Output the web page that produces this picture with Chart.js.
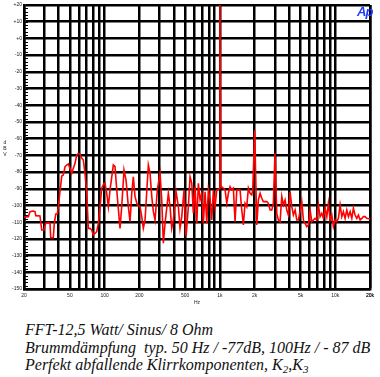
<!DOCTYPE html>
<html>
<head>
<meta charset="utf-8">
<script src="https://cdn.jsdelivr.net/npm/chart.js@4/dist/chart.umd.min.js"></script>
<style>
html, body { margin: 0; padding: 0; background: #fff; }
#wrap { position: relative; width: 380px; height: 377px; overflow: hidden; }
#fft { position: absolute; left: 0; top: 0; }
#logo { position: absolute; left: 357px; top: 5px; font: italic bold 13px "Liberation Sans", Arial, sans-serif; line-height: 13px; color: #1a3cff; letter-spacing: -1px; }
#caption { position: absolute; left: 25px; top: 321px; font: italic 16px "Liberation Serif", serif; line-height: 17.5px; color: #111; white-space: pre; }
#caption sub { font-size: 11px; line-height: 0; vertical-align: -3px; }
</style>
</head>
<body>
<div id="wrap">
  <canvas id="fft" width="380" height="312"></canvas>
  <div id="logo">Ap</div>
  <div id="caption">FFT-12,5 Watt/ Sinus/ 8 Ohm
Brummdämpfung  typ. 50 Hz / -77dB, 100Hz / - 87 dB
Perfekt abfallende Klirrkomponenten, K<sub>2</sub>,K<sub>3</sub></div>
</div>
<script>
// frequency axis labels (Hz)
const xLabelHz = [20, 50, 100, 200, 500, 1000, 2000, 5000, 10000, 20000];
const xLabelText = ['20', '50', '100', '200', '500', '1k', '2k', '5k', '10k', '20k'];

// level axis (dBV)
const yMin = -150;
const yMax = 20;
const yStep = 10;

// FFT trace
const freqHz = [
    20, 21.8, 22.5, 24.1, 24.9, 25.3, 27.5, 28.5, 29.8, 30.8,
    32.5, 33.6, 34.1, 35.9, 36.6, 37.7, 38.9, 39.7, 41.0, 42.5,
    43.8, 45.4, 46.9, 48.5, 50.1, 51.9, 53.5, 55.4, 57.3, 59.1,
    61.2, 63.3, 65.4, 67.6, 70.0, 72.2, 74.7, 77.3, 79.8, 85.4,
    88.2, 91.3, 94.4, 98.8, 100.8, 104.3, 107.7, 111.4, 119, 123.1,
    127.4, 136, 140.7, 147.3, 153.4, 160.6, 166.1, 171.9, 177.4, 183.5,
    192.2, 202.8, 209.8, 216.6, 224.2, 239.4, 247.6, 256.4, 264.6, 273.8,
    286.6, 302.4, 312.9, 323, 334.2, 357, 369.3, 382, 394.4, 416.3,
    435.9, 450.8, 466.4, 488.4, 508.2, 532.2, 550.6, 569.8, 588, 608.4,
    629.4, 649.9, 672.5, 695.6, 718.3, 743, 768.7, 793.6, 821.1, 849.3,
    876.8, 907.2, 938.5, 985, 1000, 1015, 1037, 1108, 1146, 1183,
    1224, 1266, 1307, 1352, 1399, 1444, 1494, 1546, 1596, 1651,
    1708, 1764, 1824, 1887, 1925, 2000, 2086, 2153, 2228, 2305,
    2379, 2547, 2630, 2721, 2815, 2906, 3000, 3110, 3211, 3322,
    3437, 3548, 3670, 3797, 3920, 4056, 4196, 4333, 4483, 4637,
    4786, 4953, 5124, 5291, 5473, 5662, 5846, 6048, 6257, 6459,
    6683, 6912, 7137, 7384, 7638, 7886, 8159, 8440, 8715, 9016,
    9327, 9630, 9963, 10306, 10641, 11010, 11389, 11760, 12167, 12585,
    12995, 13444, 13908, 14357, 14853, 15364, 15864, 16412, 16978, 17529,
    18134, 18760, 20000
];
const levelDb = [
    -107.1, -106.7, -103.7, -103.3, -103.7, -106.1, -106.3, -114.7, -114.7, -110.7,
    -110.3, -110.7, -119.3, -119.3, -110.7, -105.1, -105.1, -100.7, -91.8, -82.4,
    -81.8, -76.8, -75.8, -75.2, -77.8, -80.7, -77.8, -74.8, -69.8, -68.8,
    -69.2, -71.8, -72.8, -80.7, -92.7, -113.7, -113.7, -114.7, -117.7, -115.7,
    -110.7, -100.7, -89.7, -86.7, -86.7, -92.7, -100.7, -90.7, -75.8, -76.8,
    -90.7, -113.7, -100.7, -78.8, -84.8, -100.7, -109.7, -92.7, -82.8, -94.7,
    -99.7, -100.7, -106.7, -113.7, -108.7, -75.8, -80.7, -94.7, -103.7, -108.7,
    -90.7, -80.7, -96.7, -122.6, -110.7, -92.7, -100.7, -113.7, -108.7, -91.8,
    -100.7, -113.7, -106.7, -90.7, -118.7, -100.7, -82.8, -86.7, -104.7, -88.8,
    -110.7, -86.7, -96.7, -92.7, -110.7, -91.8, -110.7, -90.7, -96.7, -108.7,
    -90.7, -100.7, -90.7, -90, 25, -88, -88.8, -90.7, -98.7, -92.7,
    -88.8, -90.7, -89.7, -109.7, -90.7, -90.7, -90.7, -102.7, -111.7, -98.7,
    -100.7, -89.7, -92.7, -93.7, -90.7, -54.8, -111.7, -96.7, -92.7, -95.7,
    -97.7, -97.7, -98.7, -102.7, -102.7, -98.7, -68.8, -104.7, -108.7, -109.7,
    -94.7, -99.7, -96.7, -102.7, -105.7, -91.8, -100.7, -105.7, -102.7, -108.7,
    -108.7, -103.7, -97.7, -108.7, -110.7, -112.7, -111.7, -102.7, -109.7, -108.7,
    -107.7, -108.7, -99.7, -106.7, -104.7, -107.7, -101.7, -106.7, -98.7, -108.7,
    -105.7, -112.7, -108.7, -109.7, -107.7, -99.7, -106.7, -103.7, -107.7, -102.7,
    -106.7, -103.7, -107.7, -101.7, -105.7, -107.7, -105.7, -108.7, -107.7, -106.7,
    -106.7, -107.7, -108.1
];

// log grid: 20, 30 ... 90, 100, 200 ... 20k
const xGridHz = [];
for (let dec = 10; dec <= 10000; dec *= 10) {
    for (let m = 1; m <= 9; m++) {
        const v = m * dec;
        if (v >= 20 && v <= 20000) xGridHz.push(v);
    }
}
xGridHz.push(20000);

const tickFont = { family: 'Liberation Sans', size: 5 };

// small 2 dB ticks on the left edge + stacked "dBV" unit
const leftAxisDecor = {
    id: 'leftAxisDecor',
    beforeDatasetsDraw(chart) {
        const ctx = chart.ctx;
        const y = chart.scales.y;
        const left = chart.chartArea.left;
        ctx.save();
        ctx.strokeStyle = '#000';
        ctx.lineWidth = 1;
        ctx.beginPath();
        for (let v = yMin; v <= yMax; v += 2) {
            const py = Math.round(y.getPixelForValue(v)) + 0.5;
            ctx.moveTo(left, py);
            ctx.lineTo(left + 4, py);
        }
        ctx.stroke();

        ctx.fillStyle = '#222';
        ctx.font = '5px "Liberation Sans"';
        ctx.textAlign = 'center';
        ctx.textBaseline = 'middle';
        ['d', 'B', 'V'].forEach((ch, i) => ctx.fillText(ch, 5, 143 + i * 6));
        ctx.restore();
    }
};

const points = freqHz.map((f, i) => ({ x: f, y: levelDb[i] }));

new Chart(document.getElementById('fft').getContext('2d'), {
    type: 'line',
    data: {
        datasets: [{
            data: points,
            borderColor: '#ff0000',
            borderWidth: 1.6,
            pointRadius: 0,
            tension: 0,
            fill: false
        }]
    },
    options: {
        responsive: false,
        animation: false,
        devicePixelRatio: 1,
        layout: { autoPadding: false, padding: { left: 0, top: 5, right: 10, bottom: 0 } },
        plugins: {
            legend: { display: false },
            tooltip: { enabled: false }
        },
        scales: {
            x: {
                type: 'logarithmic',
                min: 20,
                max: 20000,
                afterBuildTicks(scale) {
                    scale.ticks = xGridHz.map(v => ({ value: v }));
                },
                afterFit(scale) { scale.height = 23; },
                grid: { color: '#000', lineWidth: 2.5, drawTicks: false },
                border: { color: '#000', width: 2.5 },
                ticks: {
                    autoSkip: false,
                    maxRotation: 0,
                    padding: 4,
                    color: '#222',
                    font: tickFont,
                    callback: (v) => {
                        const i = xLabelHz.indexOf(v);
                        return i >= 0 ? xLabelText[i] : '';
                    }
                },
                title: {
                    display: true,
                    text: 'Hz',
                    color: '#222',
                    font: tickFont,
                    padding: { top: 0, bottom: 6 }
                }
            },
            y: {
                min: yMin,
                max: yMax,
                afterFit(scale) { scale.width = 24; },
                grid: { color: '#000', lineWidth: 2.5, drawTicks: false },
                border: { color: '#000', width: 2.5 },
                ticks: {
                    stepSize: yStep,
                    padding: 2,
                    color: '#222',
                    font: tickFont,
                    callback: (v) => (v > 0 ? '+' + v : v === 0 ? '+0' : String(v))
                }
            }
        }
    },
    plugins: [leftAxisDecor]
});
</script>
</body>
</html>
